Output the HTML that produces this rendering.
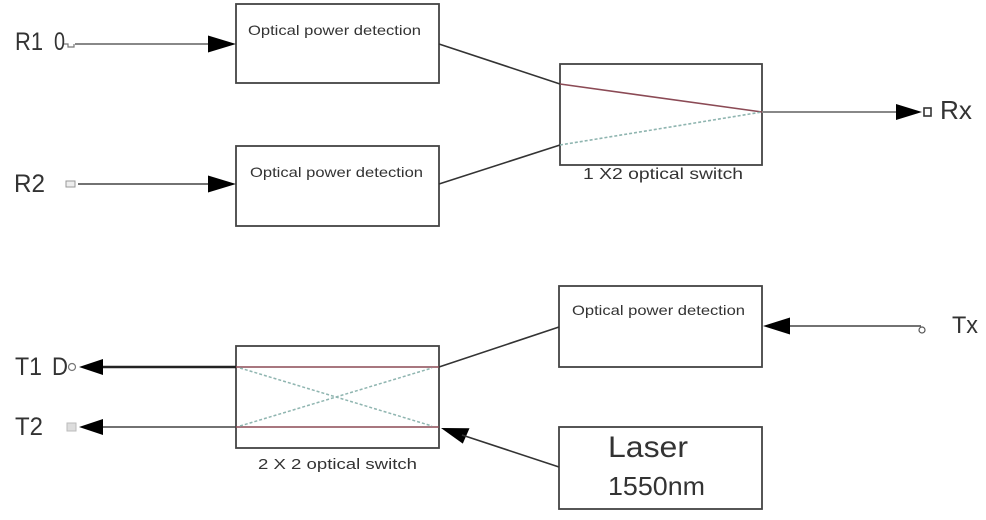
<!DOCTYPE html>
<html><head><meta charset="utf-8"><style>
html,body{margin:0;padding:0;background:#fff;}
svg{display:block;}
text{font-family:"Liberation Sans","DejaVu Sans",sans-serif;fill:#333;}
</style></head><body>
<svg width="986" height="520" viewBox="0 0 986 520" xmlns="http://www.w3.org/2000/svg">
<rect width="986" height="520" fill="#fff"/>
<!-- boxes -->
<g fill="none" stroke="#444" stroke-width="1.8">
<rect x="236" y="4" width="203" height="79"/>
<rect x="236" y="146" width="203" height="80"/>
<rect x="560" y="64" width="202" height="101"/>
<rect x="236" y="346" width="203" height="102"/>
<rect x="559" y="286" width="203" height="81"/>
<rect x="559" y="427" width="203" height="82"/>
</g>
<!-- box texts -->
<text x="248" y="35" font-size="14" textLength="173" lengthAdjust="spacingAndGlyphs">Optical power detection</text>
<text x="250" y="177" font-size="14" textLength="173" lengthAdjust="spacingAndGlyphs">Optical power detection</text>
<text x="572" y="315" font-size="14" textLength="173" lengthAdjust="spacingAndGlyphs">Optical power detection</text>
<text x="608" y="457" font-size="30" textLength="80" lengthAdjust="spacingAndGlyphs">Laser</text>
<text x="608" y="495" font-size="26" textLength="97" lengthAdjust="spacingAndGlyphs">1550nm</text>
<text x="583" y="179" font-size="16" textLength="160" lengthAdjust="spacingAndGlyphs">1 X2 optical switch</text>
<text x="258" y="469" font-size="15" textLength="159" lengthAdjust="spacingAndGlyphs">2 X 2 optical switch</text>
<!-- labels -->
<text x="15" y="50" font-size="25" textLength="28" lengthAdjust="spacingAndGlyphs">R1</text>
<text x="54" y="50" font-size="25" textLength="11" lengthAdjust="spacingAndGlyphs">0</text>
<text x="14" y="192" font-size="25" textLength="31" lengthAdjust="spacingAndGlyphs">R2</text>
<text x="940" y="119" font-size="26" textLength="32" lengthAdjust="spacingAndGlyphs">Rx</text>
<text x="15" y="375" font-size="25" textLength="27" lengthAdjust="spacingAndGlyphs">T1</text>
<text x="52" y="375" font-size="25" textLength="16" lengthAdjust="spacingAndGlyphs">D</text>
<text x="15" y="435" font-size="25" textLength="28" lengthAdjust="spacingAndGlyphs">T2</text>
<text x="952" y="333" font-size="24" textLength="26" lengthAdjust="spacingAndGlyphs">Tx</text>
<!-- terminals -->
<path d="M64 44 L68 44 L68 47 L74 47 L74 44" fill="none" stroke="#777" stroke-width="1.2"/>
<rect x="66" y="181" width="9" height="6" fill="#eee" stroke="#999" stroke-width="1"/>
<rect x="924" y="108" width="7" height="8" fill="#fff" stroke="#333" stroke-width="1.6"/>
<circle cx="72" cy="367" r="3.5" fill="#fff" stroke="#777" stroke-width="1.2"/>
<rect x="67" y="423" width="9" height="8" fill="#ddd" stroke="#bbb" stroke-width="1"/>
<circle cx="922" cy="330" r="3" fill="#fff" stroke="#555" stroke-width="1.2"/>
<!-- straight input/output lines -->
<line x1="75" y1="44" x2="210" y2="44" stroke="#888" stroke-width="2"/>
<line x1="78" y1="184" x2="210" y2="184" stroke="#444" stroke-width="1.6"/>
<line x1="762" y1="112" x2="898" y2="112" stroke="#888" stroke-width="2"/>
<line x1="101" y1="367" x2="236" y2="367" stroke="#222" stroke-width="2.6"/>
<line x1="101" y1="427" x2="236" y2="427" stroke="#444" stroke-width="1.6"/>
<line x1="788" y1="326" x2="921" y2="326" stroke="#444" stroke-width="1.6"/>
<!-- arrowheads -->
<g fill="#000">
<polygon points="236,44 208,35.5 208,52.5"/>
<polygon points="236,184 208,175.5 208,192.5"/>
<polygon points="922,112 896,104 896,120"/>
<polygon points="79,367 103,359 103,375"/>
<polygon points="79,427 103,419 103,435"/>
<polygon points="763,326 790,317.5 790,334.5"/>
<polygon points="441,428 469.5,428.3 462.8,443.6"/>
</g>
<!-- connectors -->
<g stroke="#333" stroke-width="1.6" fill="none">
<line x1="439" y1="44" x2="560" y2="84"/>
<line x1="439" y1="184" x2="560" y2="145"/>
<line x1="439" y1="367" x2="559" y2="327"/>
<line x1="462" y1="435" x2="559" y2="467"/>
</g>
<!-- switch internals -->
<line x1="560" y1="84" x2="762" y2="112" stroke="#8b4a55" stroke-width="1.6"/>
<line x1="560" y1="145" x2="762" y2="112" stroke="#8fb5b0" stroke-width="1.6" stroke-dasharray="3,2"/>
<line x1="236" y1="367" x2="439" y2="367" stroke="#8b4a55" stroke-width="1.6"/>
<line x1="236" y1="427" x2="439" y2="427" stroke="#8b4a55" stroke-width="1.6"/>
<line x1="240" y1="368" x2="432" y2="426" stroke="#8fb5b0" stroke-width="1.5" stroke-dasharray="3,2"/>
<line x1="240" y1="426" x2="432" y2="368" stroke="#8fb5b0" stroke-width="1.5" stroke-dasharray="3,2"/>
</svg>
</body></html>
